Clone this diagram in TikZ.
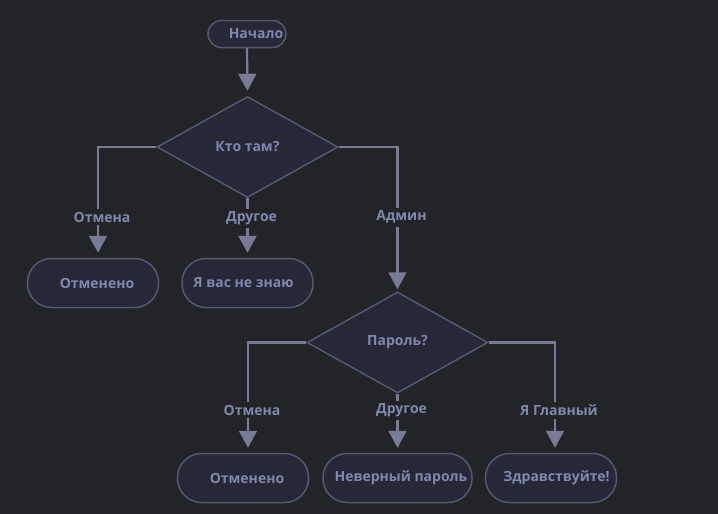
\documentclass[tikz,border=0pt]{standalone}
\usepackage{fontspec}
\setmainfont{Open Sans}
\usetikzlibrary{shapes.geometric,arrows.meta}
\definecolor{bgc}{HTML}{232428}
\definecolor{nodefill}{HTML}{262737}
\definecolor{nodeline}{HTML}{565770}
\definecolor{txtc}{HTML}{7F88AE}
\definecolor{edgec}{HTML}{777B96}
\tikzset{
  term/.style={draw=nodeline, line width=1.5pt, fill=nodefill, rectangle,
    rounded corners=24pt, minimum width=131pt, minimum height=49pt, inner sep=0pt,
    text=txtc, font=\fontsize{14}{16}\selectfont\bfseries},
  startbox/.style={term, rounded corners=13.5pt, minimum width=78pt, minimum height=27pt},
  decision/.style={draw=nodeline, line width=1.5pt, fill=nodefill, diamond, inner sep=0pt,
    minimum width=181pt, minimum height=101pt,
    text=txtc, font=\fontsize{14}{16}\selectfont\bfseries},
  flow/.style={draw=edgec, line width=2.2pt, -{Triangle[width=18pt,length=17pt]}, shorten >=5pt},
  lbl/.style={fill=bgc, text=txtc, inner xsep=3pt, inner ysep=3pt, xshift=4pt, yshift=-1.5pt,
    font=\fontsize{14}{16}\selectfont\bfseries}
}
\begin{document}
\begin{tikzpicture}[x=1pt,y=-1pt]
\fill[bgc] (0,0) rectangle (718,514);
\useasboundingbox (0,0) rectangle (718,514);

\node[startbox] (start) at (247,34) {\hspace*{18pt}Начало};
\node[decision] (q1) at (247.5,147) {Кто там?};
\node[term] (c1) at (93,283) {\hspace*{8pt}Отменено};
\node[term] (unk) at (247.5,283) {Я вас не знаю\hspace*{8pt}};
\node[decision] (q2) at (397.5,342.5) {Пароль?};
\node[term] (c2) at (243,478) {\hspace*{8pt}Отменено};
\node[term, minimum width=149pt] (bad) at (397.5,478) {\hspace*{7pt}Неверный пароль};
\node[term] (hi) at (551,478) {\hspace*{11pt}Здравствуйте!};

\draw[flow] (start.south) -- (q1.north);

\draw[flow] (q1.west) -| node[lbl, pos=0.81] {Отмена} ([xshift=5pt]c1.north);
\draw[flow] (q1.south) -- node[lbl, pos=0.31] {Другое} (unk.north);
\draw[flow, shorten >=2pt] (q1.east) -| node[lbl, pos=0.738] {Админ} (q2.north);

\draw[flow] (q2.west) -| node[lbl, pos=0.8] {Отмена} ([xshift=5pt]c2.north);
\draw[flow] (q2.south) -- node[lbl, pos=0.26] {Другое} (bad.north);
\draw[flow] (q2.east) -| node[lbl, pos=0.8] {Я Главный} ([xshift=4pt]hi.north);
\end{tikzpicture}
\end{document}
